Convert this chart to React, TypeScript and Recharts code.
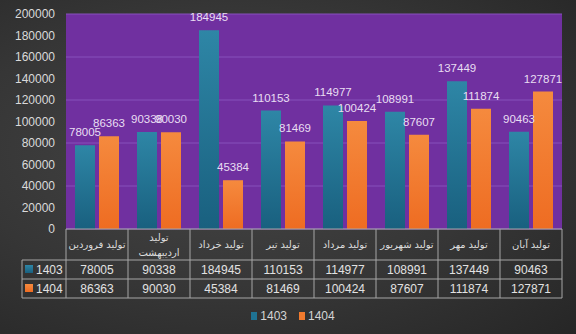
import { Bar, BarChart, CartesianGrid, LabelList, Legend, XAxis, YAxis } from "recharts";

const categories = [
  "تولید فروردین",
  "تولید اردیبهشت",
  "تولید خرداد",
  "تولید تیر",
  "تولید مرداد",
  "تولید شهریور",
  "تولید مهر",
  "تولید آبان",
];
const values1403 = [78005, 90338, 184945, 110153, 114977, 108991, 137449, 90463];
const values1404 = [86363, 90030, 45384, 81469, 100424, 87607, 111874, 127871];
const yTicks = [0, 20000, 40000, 60000, 80000, 100000, 120000, 140000, 160000, 180000, 200000];
const seriesNames = ["1403", "1404"];

const data = categories.map((name, i) => ({ name, s1403: values1403[i], s1404: values1404[i] }));

const W = 576;
const H = 334;
const MARGIN = { top: 14, right: 14, left: 0, bottom: 0 };
const Y_W = 66;
const TABLE_H = 69;
const HEAD_H = 31;
const ROW_H = 19;
const LEGEND_H = 36;
const BAND = (W - MARGIN.left - MARGIN.right - Y_W) / categories.length;
const LINE = "#a6a6a6";
const TXT = "#e2e2e2";
const FONT = "'Liberation Sans', Arial, 'DejaVu Sans', sans-serif";

function Swatch({ x, y, id }: { x: number; y: number; id: string }) {
  return <rect x={x} y={y} width={8} height={8} fill={`url(#${id})`} />;
}

function TableTick(props: any) {
  const { x, y, payload, index } = props;
  const label: string = payload.value;
  const left = x - BAND / 2;
  const right = x + BAND / 2;
  const r1 = y + HEAD_H;
  const r2 = r1 + ROW_H;
  const r3 = r2 + ROW_H;
  const lines = label.length > 13 ? label.split(" ") : [label];
  const i = categories.indexOf(label);
  return (
    <g>
      <line x1={left} y1={y} x2={left} y2={r3} stroke={LINE} />
      {index === categories.length - 1 && <line x1={right} y1={y} x2={right} y2={r3} stroke={LINE} />}
      <line x1={left} y1={r1} x2={right} y2={r1} stroke={LINE} />
      <line x1={left} y1={r2} x2={right} y2={r2} stroke={LINE} />
      <line x1={left} y1={r3} x2={right} y2={r3} stroke={LINE} />
      {lines.map((t, k) => (
        <text
          key={k}
          x={x}
          y={y + HEAD_H / 2 + (k - (lines.length - 1) / 2) * 15 + 3.5}
          textAnchor="middle"
          fill="#dcdcdc"
          fontSize={10}
          fontFamily={FONT}
        >
          {t}
        </text>
      ))}
      <text x={x} y={r1 + ROW_H / 2 + 4} textAnchor="middle" fill={TXT} fontSize={12} fontFamily={FONT}>
        {values1403[i]}
      </text>
      <text x={x} y={r2 + ROW_H / 2 + 4} textAnchor="middle" fill={TXT} fontSize={12} fontFamily={FONT}>
        {values1404[i]}
      </text>
      {index === 0 && (
        <g>
          <line x1={left - 44} y1={r1} x2={left} y2={r1} stroke={LINE} />
          <line x1={left - 44} y1={r2} x2={left} y2={r2} stroke={LINE} />
          <line x1={left - 44} y1={r3} x2={left} y2={r3} stroke={LINE} />
          <line x1={left - 44} y1={r1} x2={left - 44} y2={r3} stroke={LINE} />
          <Swatch x={left - 41} y={r1 + 5} id="g1403" />
          <Swatch x={left - 41} y={r2 + 5} id="g1404" />
          <text x={left - 30} y={r1 + ROW_H / 2 + 4} fill={TXT} fontSize={12} fontFamily={FONT}>
            {seriesNames[0]}
          </text>
          <text x={left - 30} y={r2 + ROW_H / 2 + 4} fill={TXT} fontSize={12} fontFamily={FONT}>
            {seriesNames[1]}
          </text>
        </g>
      )}
    </g>
  );
}

function LegendBox() {
  const item = (name: string, color: string) => (
    <div key={name} style={{ display: "flex", alignItems: "center", margin: "0 6px" }}>
      <div style={{ width: 6, height: 8, background: color, marginRight: 3 }} />
      <span style={{ color: "#d4d4d4", fontSize: 12, fontFamily: FONT }}>{name}</span>
    </div>
  );
  return (
    <div style={{ height: LEGEND_H, display: "flex", alignItems: "center", justifyContent: "center", paddingLeft: 10 }}>
      {item(seriesNames[0], "#1f7393")}
      {item(seriesNames[1], "#f07a2e")}
    </div>
  );
}

export default function App() {
  return (
    <div
      style={{
        position: "absolute",
        left: 0,
        top: 0,
        width: W,
        height: H,
        background: "radial-gradient(ellipse at 40% 45%, #464646 0%, #363636 55%, #262626 100%)",
      }}
    >
      <BarChart width={W} height={H} data={data} margin={MARGIN} barSize={20} barGap={4}>
        <defs>
          <linearGradient id="g1403" x1="0" y1="0" x2="0" y2="1">
            <stop offset="0%" stopColor="#2e86a6" />
            <stop offset="100%" stopColor="#19607f" />
          </linearGradient>
          <linearGradient id="g1404" x1="0" y1="0" x2="0" y2="1">
            <stop offset="0%" stopColor="#f58a3e" />
            <stop offset="100%" stopColor="#ee6c22" />
          </linearGradient>
        </defs>
        <CartesianGrid vertical={false} fill="#7030a0" fillOpacity={1} stroke="#8650bb" />
        <YAxis
          width={Y_W}
          domain={[0, 200000]}
          ticks={yTicks}
          axisLine={false}
          tickLine={false}
          tickSize={0}
          tickMargin={11}
          tick={{ fill: "#dadada", fontSize: 12, fontFamily: FONT }}
        />
        <XAxis
          dataKey="name"
          height={TABLE_H}
          axisLine={{ stroke: LINE }}
          tickLine={false}
          tickSize={0}
          tickMargin={0}
          interval={0}
          tick={<TableTick />}
        />
        <Legend verticalAlign="bottom" content={<LegendBox />} wrapperStyle={{ left: 0, width: W }} />
        <Bar dataKey="s1403" name={seriesNames[0]} fill="url(#g1403)" isAnimationActive={false}>
          <LabelList dataKey="s1403" position="top" offset={9} fill="#e8def2" fontSize={11.5} fontFamily={FONT} />
        </Bar>
        <Bar dataKey="s1404" name={seriesNames[1]} fill="url(#g1404)" isAnimationActive={false}>
          <LabelList dataKey="s1404" position="top" offset={9} fill="#e8def2" fontSize={11.5} fontFamily={FONT} />
        </Bar>
      </BarChart>
    </div>
  );
}
